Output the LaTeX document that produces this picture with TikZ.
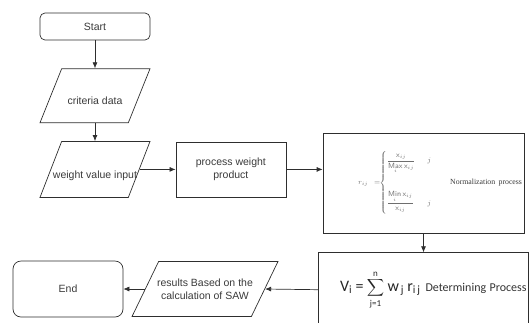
\documentclass[tikz,border=0pt]{standalone}
\usepackage{amsmath}
\usepackage{fontspec}
\setmainfont{Liberation Sans}
\newfontfamily\calfont{Carlito}
\newfontfamily\timesfont{Liberation Serif}
\usetikzlibrary{arrows.meta,positioning,shapes.geometric}
\definecolor{linegray}{HTML}{2E2E2E}
\definecolor{textgray}{HTML}{3A3A3A}
\definecolor{formgray}{HTML}{6E6E6E}
\tikzset{
terminal/.style={draw=linegray,line width=.7pt,rounded corners=5pt,align=center,minimum width=110pt,minimum height=27pt,font=\fontsize{10.5}{12.5}\selectfont,text=textgray},
iobox/.style={draw=linegray,line width=.7pt,trapezium,trapezium left angle=72,trapezium right angle=108,trapezium stretches,minimum width=110pt,minimum height=54pt,inner sep=2pt},
iolabel/.style={font=\fontsize{10.5}{12.5}\selectfont,text=textgray,align=center},
procbox/.style={draw=linegray,line width=.7pt,align=center,minimum width=110pt,minimum height=55pt,font=\fontsize{10.5}{12.5}\selectfont,text=textgray},
formbox/.style={draw=linegray,line width=.7pt,inner sep=1pt},
arrow/.style={-{Latex[length=6pt,width=5pt]},draw=linegray,line width=.7pt}
}

\begin{document}
\begin{tikzpicture}[x=1pt,y=-1pt]
\useasboundingbox (0,0) rectangle (529,322);
\node[terminal] (start) at (95,26.5) {Start};
\node[iobox,below=28pt of start,label={[iolabel,yshift=-5pt]center:criteria data}] (crit) {};
\node[iobox,below=18pt of crit,minimum height=56pt,label={[iolabel,yshift=-6pt]center:weight value input}] (weight) {};
\node[procbox,right=36pt of weight] (proc) {process weight\\product};
\node[formbox,minimum width=201pt,minimum height=100pt,text width=197pt,align=right] (norm) at (423.5,183)
 {{\color{formgray}\fontsize{7.5}{8}\selectfont$r_{ij}=\hspace{-7pt}\left\{\begin{array}{@{}l@{\hspace{12pt}}l@{}}
 \rule{0pt}{12pt}\dfrac{\mathsf{x}_{ij}}{\mathop{\mathsf{Max}}\limits_{i}\mathsf{x}_{ij}} & j\\[26pt]
 \dfrac{\mathop{\mathsf{Min}}\limits_{i}\mathsf{x}_{ij}}{\mathsf{x}_{ij}}\rule[-10pt]{0pt}{10pt} & j
 \end{array}\right.$}\hspace{18pt}{\timesfont\fontsize{7.8}{9}\selectfont\color{textgray}Normalization process}};
\node[formbox,below=19pt of norm,minimum width=210pt,minimum height=74pt,text width=206pt,align=right] (det)
 {{\calfont\fontsize{16}{18}\selectfont\color{black!85}V\textsubscript{i} = {\fontsize{13}{14}\selectfont$\displaystyle\sum\limits_{\text{\calfont\fontsize{9}{10}\selectfont j=1}}^{\text{\calfont\fontsize{9}{10}\selectfont n}}$} w\textsubscript{\,j} r\textsubscript{i\,j}}\hspace{5pt}{\calfont\fontsize{12}{14}\selectfont\color{black!80}Determining Process}};
\node[iobox,trapezium left angle=74,trapezium right angle=106,minimum width=146pt,minimum height=55pt,label={[iolabel]center:results Based on the\\calculation of SAW}] (results) at (205,289) {};
\node[terminal,rounded corners=8pt,minimum height=56pt] (end) at (68,289) {End};
\draw[arrow] (start) -- (crit);
\draw[arrow] (crit) -- (weight);
\draw[arrow] (weight.east) -- (proc.west);
\draw[arrow] (proc.east) -- (proc.east -| norm.west);
\draw[arrow] (norm) -- (det);
\draw[arrow] (det.west) -- (results.east);
\draw[arrow] (results.west) -- (end.east);
\end{tikzpicture}
\end{document}
